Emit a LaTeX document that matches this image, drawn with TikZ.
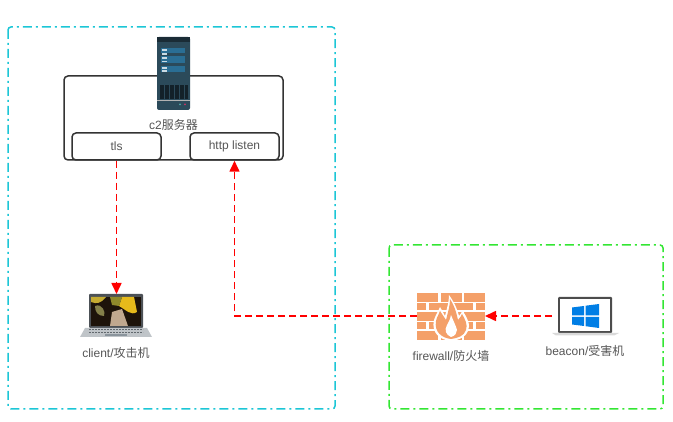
\documentclass[tikz,border=0pt]{standalone}
\usepackage{fontspec}
\setmainfont{Liberation Sans}
\newfontfamily\cjk{Noto Sans CJK SC}
\usetikzlibrary{arrows.meta}
\definecolor{regioncyan}{HTML}{1CC6D6}
\definecolor{regiongreen}{HTML}{33E633}
\definecolor{labelgray}{HTML}{555555}
\definecolor{brick}{HTML}{F4A069}
\definecolor{serverdark}{HTML}{2B4A5A}
\definecolor{serverblue}{HTML}{2A6E94}
\definecolor{laptopgray}{HTML}{8A949C}
\tikzset{
    region/.style={rounded corners=3pt, line width=1.5pt, dash pattern=on 9pt off 4pt on 2pt off 4pt},
    boxed/.style={draw=black!80, line width=1.5pt, rounded corners=4pt, inner sep=0pt, text=labelgray, font=\fontsize{12}{14}\selectfont},
    caption/.style={text=labelgray, font=\fontsize{12}{14}\selectfont, inner sep=0pt},
    flow/.style={draw=red, line width=1.6pt, dash pattern=on 7pt off 4pt, -{Triangle[length=11pt,width=10pt]}},
    icon/.style={inner sep=0pt, outer sep=0pt}
}
\begin{document}
\begin{tikzpicture}[x=1pt,y=-1pt]
    \useasboundingbox (0,0) rectangle (673,422);
    % regions
    \draw[region, regioncyan] (8,27) rectangle (335,409);
    \draw[region, regiongreen] (389,245) rectangle (663,409);

    % c2 box
    \node[boxed, minimum width=219pt, minimum height=84pt] (c2) at (173.5,118) {};
    \node[boxed, minimum width=89pt, minimum height=27pt] (tls) at (116.5,146.5) {tls};
    \node[boxed, minimum width=89pt, minimum height=27pt] (http) at (234.5,146.5) {http listen};
    \node[caption] (c2label) at (173.5,125) {c2{\cjk 服务器}};

    % server icon
    \node[icon, minimum width=33pt, minimum height=73pt] (server) at (173.5,73.5) {};
    \fill[serverdark, rounded corners=2pt] (157,37) rectangle (190,110);
    \fill[black!40!serverdark] (157,37) rectangle (190,42);
    \fill[serverblue] (161,48) rectangle (185,53);
    \fill[serverblue] (161,56) rectangle (185,63);
    \fill[serverblue] (161,66) rectangle (185,72);
    \foreach \y in {49.5,53.5,57.5,61,67.5,70.5} {
        \fill[white!75!serverblue] (162,\y) rectangle (167,\y+1.2);
    }
    \fill[black!55!serverdark] (159.5,85) rectangle (187.5,99);
    \foreach \x in {164,169,174,179,184} {
        \fill[serverdark] (\x,85) rectangle (\x+0.7,99);
    }
    \fill[gray!60!white] (157,100) rectangle (190,101.5);
    \fill[teal!70!white] (180,104.5) circle (1pt);
    \fill[purple!80!white] (185,104.5) circle (1pt);

    % client laptop
    \node[icon, minimum width=72pt, minimum height=43pt] (client) at (116,315.5) {};
    \fill[black!45!laptopgray, rounded corners=1pt] (89,294) rectangle (143,328);
    \fill[black!85!brown] (91,297) rectangle (141,326);
    \fill[yellow!70!orange!75!black] (91,297) -- (106,297) .. controls (100,304) and (97,304) .. (91,302) -- cycle;
    \fill[yellow!60!orange!90!black] (122,297) -- (134,297) -- (137,312) .. controls (131,316) and (126,310) .. (119,306) -- cycle;
    \fill[olive!70!gray] (110,297) -- (122,297) -- (119,306) -- (112,305) -- cycle;
    \fill[white!45!brown!70!gray] (112,312) -- (122,309) -- (128,326) -- (110,326) -- cycle;
    \fill[yellow!45!black] (95,306) .. controls (102,303) and (106,312) .. (104,316) .. controls (98,316) and (95,312) .. (95,306);
    \fill[laptopgray!55!white] (85,328) -- (147,328) -- (152,337) -- (80,337) -- cycle;
    \foreach \y in {330,332.5} {
        \draw[black!30!laptopgray, line width=1pt, dash pattern=on 2pt off 1pt] (89,\y) -- (143,\y);
    }
    \fill[laptopgray] (105,334) rectangle (127,336.5);
    \node[caption] (clientlabel) at (116,353) {client/{\cjk 攻击机}};

    % firewall
    \node[icon, minimum width=68pt, minimum height=50pt] (firewall) at (451,316) {};
    \foreach \y in {293,312.2,331.4} {
        \fill[brick] (417,\y) rectangle (438,\y+8.6);
        \fill[brick] (440.5,\y) rectangle (461.5,\y+8.6);
        \fill[brick] (464,\y) rectangle (485,\y+8.6);
    }
    \foreach \y in {302.6,321.8} {
        \fill[brick] (417,\y) rectangle (426,\y+7.6);
        \fill[brick] (428.5,\y) rectangle (449.5,\y+7.6);
        \fill[brick] (452,\y) rectangle (473,\y+7.6);
        \fill[brick] (475.5,\y) rectangle (485,\y+7.6);
    }
    \fill[white] (451,341) .. controls (440,340) and (431,333) .. (434,320) .. controls (436,314) and (438,312) .. (440,307) .. controls (443,312) and (444,314) .. (445,316) .. controls (447,308) and (449,302) .. (449,295) .. controls (454,302) and (457,308) .. (459,316) .. controls (461,314) and (462,312) .. (462,310) .. controls (467,317) and (471,325) .. (468,331) .. controls (466,337) and (459,340) .. (451,341) -- cycle;
    \fill[brick] (451,339) .. controls (442,338) and (434,332) .. (436,321) .. controls (437,316) and (439,315) .. (440,311) .. controls (442,314) and (444,317) .. (446,320) .. controls (448,312) and (450,306) .. (450,299) .. controls (454,305) and (456,311) .. (458,320) .. controls (460,318) and (461,316) .. (462,314) .. controls (465,319) and (468,325) .. (466,330) .. controls (464,336) and (458,338) .. (451,339) -- cycle;
    \fill[white] (451,337) .. controls (446,335) and (444,330) .. (447,325) .. controls (449,322) and (450,319) .. (451,315) .. controls (453,320) and (456,326) .. (457,330) .. controls (457,333) and (455,336) .. (451,337) -- cycle;
    \node[caption] (firewalllabel) at (451,356) {firewall/{\cjk 防火墙}};

    % beacon laptop
    \node[icon, minimum width=67pt, minimum height=39pt] (beacon) at (585.5,316) {};
    \fill[black!70, rounded corners=1pt] (558,297) rectangle (612,333);
    \fill[white] (560,299.5) rectangle (610,331);
    \fill[black!15] (552,333) -- (619,333) -- (614,335.5) -- (556,335.5) -- cycle;
    \fill[blue!45!cyan!90!black] (572,307.5) -- (584,306) -- (584,315.3) -- (572,315.3) -- cycle;
    \fill[blue!45!cyan!90!black] (585.5,305.7) -- (599,304) -- (599,315.3) -- (585.5,315.3) -- cycle;
    \fill[blue!45!cyan!90!black] (572,316.8) -- (584,316.8) -- (584,326) -- (572,324.5) -- cycle;
    \fill[blue!45!cyan!90!black] (585.5,316.8) -- (599,316.8) -- (599,328) -- (585.5,326.2) -- cycle;
    \node[caption] (beaconlabel) at (585,351) {beacon/{\cjk 受害机}};

    % connections
    \draw[flow] (tls.south) -- (tls.south |- client.north);
    \draw[flow] (beacon.west) -- (firewall.east);
    \draw[flow] (firewall.west) -| (http.south);
\end{tikzpicture}
\end{document}
